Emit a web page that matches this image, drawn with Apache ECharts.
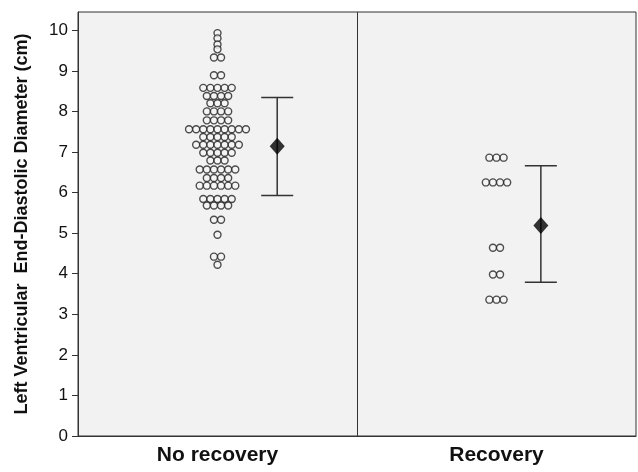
<!DOCTYPE html>
<html>
<head>
<meta charset="utf-8">
<script src="https://cdn.jsdelivr.net/npm/echarts@6/dist/echarts.min.js"></script>
<style>
  html, body { margin: 0; padding: 0; background: #fff; }
  #chart { width: 638px; height: 472px; }
</style>
</head>
<body>
<div id="chart"></div>
<script>
const categories = ["No recovery", "Recovery"];
const yTicks = [0, 1, 2, 3, 4, 5, 6, 7, 8, 9, 10];

// individual LVEDD values (cm)
const noRecovery = [
	9.93, 9.8, 9.65, 9.53, 9.33, 9.33,
	8.89, 8.89,
	8.58, 8.58, 8.58, 8.58, 8.58,
	8.38, 8.38, 8.38, 8.38,
	8.2, 8.2, 8.2,
	8.0, 8.0, 8.0, 8.0,
	7.78, 7.78, 7.78, 7.78,
	7.56, 7.56, 7.56, 7.56, 7.56, 7.56, 7.56, 7.56, 7.56,
	7.37, 7.37, 7.37, 7.37, 7.37,
	7.18, 7.18, 7.18, 7.18, 7.18, 7.18, 7.18,
	6.98, 6.98, 6.98, 6.98, 6.98,
	6.79, 6.79, 6.79,
	6.57, 6.57, 6.57, 6.57, 6.57, 6.57,
	6.36, 6.36, 6.36, 6.36,
	6.17, 6.17, 6.17, 6.17, 6.17, 6.17,
	5.84, 5.84, 5.84, 5.84, 5.84,
	5.68, 5.68, 5.68, 5.68,
	5.33, 5.33,
	4.96,
	4.42, 4.42,
	4.22
];
const recovery = [
	6.86, 6.86, 6.86,
	6.25, 6.25, 6.25, 6.25,
	4.64, 4.64,
	3.98, 3.98,
	3.36, 3.36, 3.36
];

// mean and error bar limits per group
const means = [7.14, 5.19];
const lower = [5.93, 3.79];
const upper = [8.34, 6.66];

const groups = [noRecovery, recovery];
const dotCenters = [0.5, 1.5];
const barCenters = [0.714, 1.659];
const dotStep = 0.0255;

// stack dots sharing a value side by side, centred on the group position
function dotPlot(values, center) {
	const rows = {};
	values.forEach(v => { rows[v] = (rows[v] || 0) + 1; });
	const pts = [];
	Object.keys(rows).forEach(k => {
		const n = rows[k];
		for (let i = 0; i < n; i++) {
			pts.push([center + (i - (n - 1) / 2) * dotStep, Number(k)]);
		}
	});
	return pts;
}

const dots = [];
groups.forEach((g, i) => { dotPlot(g, dotCenters[i]).forEach(p => dots.push(p)); });

const chart = echarts.init(document.getElementById("chart"));

const option = {
	animation: false,
	grid: {
		left: 78,
		right: 2,
		top: 12,
		bottom: 36,
		show: true,
		backgroundColor: "#f2f2f2",
		borderColor: "#333",
		borderWidth: 1
	},
	xAxis: {
		type: "value",
		min: 0,
		max: 2,
		axisLine: { show: true, lineStyle: { color: "#333" } },
		axisTick: { show: false },
		splitLine: { show: false },
		axisLabel: {
			customValues: [0.5, 1.5],
			formatter: v => categories[Math.floor(v)],
			fontFamily: "Liberation Sans",
			fontWeight: "bold",
			fontSize: 21,
			color: "#111",
			margin: 9
		}
	},
	yAxis: {
		type: "value",
		min: 0,
		max: 10.45,
		name: "Left Ventricular  End-Diastolic Diameter (cm)",
		nameLocation: "middle",
		nameGap: 47,
		nameTextStyle: {
			fontFamily: "Liberation Sans",
			fontWeight: "bold",
			fontSize: 18,
			color: "#111"
		},
		axisLine: { show: true, lineStyle: { color: "#333" } },
		axisTick: { show: true, length: 6, customValues: yTicks, lineStyle: { color: "#333" } },
		splitLine: { show: false },
		axisLabel: {
			customValues: yTicks,
			fontFamily: "Liberation Sans",
			fontSize: 17,
			color: "#111",
			margin: 10
		}
	},
	series: [
		{
			type: "scatter",
			symbol: "circle",
			symbolSize: 7,
			itemStyle: { color: "#f4f4f4", borderColor: "#222", borderWidth: 1.4 },
			silent: true,
			data: dots,
			markLine: {
				silent: true,
				symbol: "none",
				label: { show: false },
				lineStyle: { color: "#333", width: 1, type: "solid" },
				data: [{ xAxis: 1 }]
			}
		},
		{
			type: "custom",
			silent: true,
			renderItem: (params, api) => {
				const x = api.value(0);
				const lo = api.coord([x, api.value(1)]);
				const hi = api.coord([x, api.value(2)]);
				const half = 16;
				const style = { stroke: "#333", lineWidth: 1.5 };
				return {
					type: "group",
					children: [
						{ type: "line", shape: { x1: lo[0], y1: lo[1], x2: hi[0], y2: hi[1] }, style },
						{ type: "line", shape: { x1: lo[0] - half, y1: lo[1], x2: lo[0] + half, y2: lo[1] }, style },
						{ type: "line", shape: { x1: hi[0] - half, y1: hi[1], x2: hi[0] + half, y2: hi[1] }, style }
					]
				};
			},
			data: barCenters.map((c, i) => [c, lower[i], upper[i]])
		},
		{
			type: "scatter",
			symbol: "diamond",
			symbolSize: [15, 17],
			itemStyle: { color: "#000" },
			silent: true,
			data: barCenters.map((c, i) => [c, means[i]])
		}
	]
};

chart.setOption(option);
window.onresize = chart.resize;
</script>
</body>
</html>
